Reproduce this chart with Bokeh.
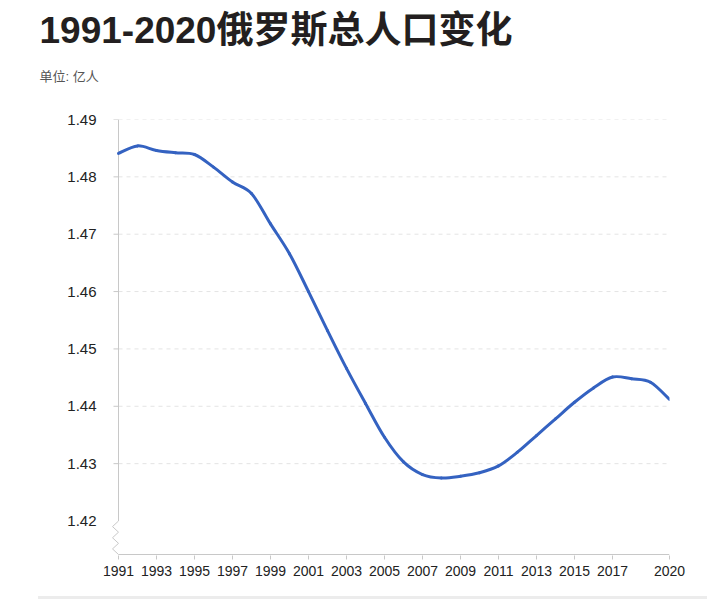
from bokeh.plotting import figure
from bokeh.layouts import column
from bokeh.models import Title, FixedTicker, Range1d, Div
from bokeh.embed import file_html
from bokeh.resources import INLINE

# ---- data ----
years = list(range(1991, 2021))
population = [1.4841, 1.4854, 1.4846, 1.4842, 1.4839, 1.4817, 1.4791, 1.4771,
              1.4718, 1.4666, 1.4600, 1.4532, 1.4466, 1.4405, 1.4346, 1.4303,
              1.4281, 1.4275, 1.4278, 1.4284, 1.4296, 1.4320, 1.4349, 1.4378,
              1.4407, 1.4432, 1.4451, 1.4448, 1.4442, 1.4412]
x_ticks = [1991, 1993, 1995, 1997, 1999, 2001, 2003, 2005, 2007, 2009,
           2011, 2013, 2015, 2017, 2020]
y_ticks = [1.42, 1.43, 1.44, 1.45, 1.46, 1.47, 1.48, 1.49]
grid_levels = [1.43, 1.44, 1.45, 1.46, 1.47, 1.48, 1.49]
title_text = "1991-2020俄罗斯总人口变化"
unit_text = "单位: 亿人"

FONT = "Liberation Sans, Noto Sans CJK SC"
AXIS_GREY = "#c8c8c8"

# ---- geometry of the frame ----
FRAME_L, FRAME_R, FRAME_T, FRAME_B = 111, 669, 119, 555
X_FIRST, X_LAST = years[0], years[-1]
px_per_year = 19.0
px_per_unit = (520.5 - FRAME_T) / (y_ticks[-1] - y_ticks[0])
X_START = X_FIRST - (118 - FRAME_L) / px_per_year
Y_TOP = y_ticks[-1]
Y_MIN = Y_TOP - (FRAME_B - FRAME_T) / px_per_unit
Y_AXIS = Y_TOP - (FRAME_B - 1 - FRAME_T) / px_per_unit

p = figure(width=707, height=596, output_backend="svg", toolbar_location=None,
           x_range=Range1d(X_START, X_LAST), y_range=Range1d(Y_MIN, Y_TOP),
           min_border_left=FRAME_L, min_border_right=707 - FRAME_R,
           min_border_top=FRAME_T, min_border_bottom=596 - FRAME_B,
           outline_line_color=None,
           background_fill_color="white", border_fill_color="white")

# ---- axes ----
for ax in (p.xaxis[0], p.yaxis[0]):
    ax.major_label_text_font = FONT
    ax.major_label_text_color = "#222222"
    ax.minor_tick_line_color = None
    ax.major_tick_in = 0
    ax.axis_line_color = None

p.xaxis.ticker = FixedTicker(ticks=x_ticks)
p.xaxis.major_label_text_font_size = "14px"
p.xaxis.major_tick_out = 4
p.xaxis.major_tick_line_color = AXIS_GREY
p.xaxis.major_label_standoff = 6

p.yaxis.ticker = FixedTicker(ticks=y_ticks)
p.yaxis.major_label_text_font_size = "15px"
p.yaxis.major_tick_out = 0
p.yaxis.major_tick_line_color = None
p.yaxis.major_label_standoff = 15
p.yaxis.formatter.use_scientific = False

p.xgrid.grid_line_color = None
p.ygrid.grid_line_color = None

# dashed horizontal grid lines and short solid ticks left of the axis
tick_len = 5 / px_per_year
p.segment(x0=[X_FIRST] * len(grid_levels), x1=[X_LAST] * len(grid_levels),
          y0=grid_levels, y1=grid_levels, line_color="#e4e4e4", line_width=1,
          line_dash="4 4")
p.segment(x0=[X_FIRST - tick_len] * len(grid_levels), x1=[X_FIRST] * len(grid_levels),
          y0=grid_levels, y1=grid_levels, line_color=AXIS_GREY, line_width=1)

# y axis line with a zig-zag break below the lowest tick
dx = 6 / px_per_year
y_break = y_ticks[0]
zig_y = [y_break - (y_break - Y_AXIS) * s / 6 for s in range(7)]
zig_x = [X_FIRST - dx if s % 2 else X_FIRST for s in range(7)]
p.line([X_FIRST] + zig_x, [Y_TOP] + zig_y, line_color=AXIS_GREY, line_width=1)

# x axis line
p.line([X_FIRST, X_LAST], [Y_AXIS, Y_AXIS], line_color=AXIS_GREY, line_width=1)

# ---- smooth data line (cubic Bezier through every data point) ----
n = len(years)
bx0, by0, bx1, by1, cx0, cy0, cx1, cy1 = ([] for _ in range(8))
for i in range(n - 1):
    xm, ym = years[max(i - 1, 0)], population[max(i - 1, 0)]
    xa, ya = years[i], population[i]
    xb, yb = years[i + 1], population[i + 1]
    xp, yp = years[min(i + 2, n - 1)], population[min(i + 2, n - 1)]
    bx0.append(xa); by0.append(ya); bx1.append(xb); by1.append(yb)
    cx0.append(xa + (xb - xm) / 6); cy0.append(ya + (yb - ym) / 6)
    cx1.append(xb - (xp - xa) / 6); cy1.append(yb - (yp - ya) / 6)
p.bezier(x0=bx0, y0=by0, x1=bx1, y1=by1, cx0=cx0, cy0=cy0, cx1=cx1, cy1=cy1,
         line_color="#3462c1", line_width=3, line_cap="round")

# ---- titles ----
TITLE_OFFSET = 39 - FRAME_L
p.add_layout(Title(text=unit_text, text_font=FONT, text_font_size="13px",
                   text_font_style="normal", text_color="#555555", align="left",
                   offset=TITLE_OFFSET, standoff=72), "above")
p.add_layout(Title(text=title_text, text_font=FONT, text_font_size="37px",
                   text_font_style="bold", text_color="#231f20", align="left",
                   offset=TITLE_OFFSET, standoff=-40), "above")

# bottom grey rule
bar = Div(text="", width=707 - 38, height=3, margin=(0, 0, 0, 38),
          styles={"background-color": "#ececec"})

layout = column(p, bar, spacing=0)
open("out.html", "w").write(file_html(layout, INLINE))
